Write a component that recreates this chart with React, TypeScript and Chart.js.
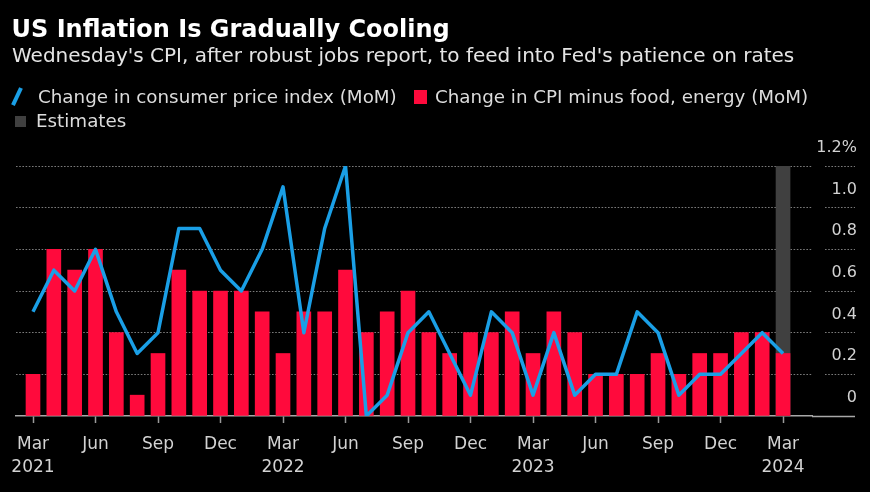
import React, { useEffect, useRef } from 'react';
import { Chart, registerables } from 'chart.js';

Chart.register(...registerables);

const FONT = '"DejaVu Sans", Verdana, sans-serif';

const months = [
  'Mar 2021', 'Apr 2021', 'May 2021', 'Jun 2021', 'Jul 2021', 'Aug 2021', 'Sep 2021', 'Oct 2021', 'Nov 2021', 'Dec 2021',
  'Jan 2022', 'Feb 2022', 'Mar 2022', 'Apr 2022', 'May 2022', 'Jun 2022', 'Jul 2022', 'Aug 2022', 'Sep 2022', 'Oct 2022', 'Nov 2022', 'Dec 2022',
  'Jan 2023', 'Feb 2023', 'Mar 2023', 'Apr 2023', 'May 2023', 'Jun 2023', 'Jul 2023', 'Aug 2023', 'Sep 2023', 'Oct 2023', 'Nov 2023', 'Dec 2023',
  'Jan 2024', 'Feb 2024', 'Mar 2024',
];

// Change in consumer price index (MoM), %
const cpiMoM = [
  0.5, 0.7, 0.6, 0.8, 0.5, 0.3, 0.4, 0.9, 0.9, 0.7,
  0.6, 0.8, 1.1, 0.4, 0.9, 1.2, 0.0, 0.1, 0.4, 0.5, 0.3, 0.1,
  0.5, 0.4, 0.1, 0.4, 0.1, 0.2, 0.2, 0.5, 0.4, 0.1, 0.2, 0.2,
  0.3, 0.4, 0.3,
];

// Change in CPI minus food, energy (MoM), %
const coreMoM = [
  0.2, 0.8, 0.7, 0.8, 0.4, 0.1, 0.3, 0.7, 0.6, 0.6,
  0.6, 0.5, 0.3, 0.5, 0.5, 0.7, 0.4, 0.5, 0.6, 0.4, 0.3, 0.4,
  0.4, 0.5, 0.3, 0.5, 0.4, 0.2, 0.2, 0.2, 0.3, 0.2, 0.3, 0.3,
  0.4, 0.4, 0.3,
];

const estimatedMonths = ['Mar 2024'];
const estimateBand = 1.2;

const tickMonths = [
  'Mar 2021', 'Jun 2021', 'Sep 2021', 'Dec 2021',
  'Mar 2022', 'Jun 2022', 'Sep 2022', 'Dec 2022',
  'Mar 2023', 'Jun 2023', 'Sep 2023', 'Dec 2023',
  'Mar 2024',
];
const tickLabels = [
  ['Mar', '2021'], ['Jun'], ['Sep'], ['Dec'],
  ['Mar', '2022'], ['Jun'], ['Sep'], ['Dec'],
  ['Mar', '2023'], ['Jun'], ['Sep'], ['Dec'],
  ['Mar', '2024'],
];

const yTicks = [0, 0.2, 0.4, 0.6, 0.8, 1.0, 1.2];
const yTickLabels = ['0', '0.2', '0.4', '0.6', '0.8', '1.0', '1.2%'];

const BLUE = '#1a9fe6';
const RED = '#ff0a3c';
const EST = '#404040';
const GRID = '#7a7a7a';
const AXIS = '#a8a8a8';
const TICK_TEXT = '#d2d2d2';

const dotted = [1.6, 1.6];
const tickDots: number[] = [0, 13];
for (let k = 0; k < 20; k++) tickDots.push(1.6, 1.6);

export default function App() {
  const ref = useRef<HTMLCanvasElement>(null);

  useEffect(() => {
    const canvas = ref.current;
    if (!canvas) return;

    Chart.defaults.font.family = FONT;

    const chart = new Chart(canvas, {
      type: 'bar',
      data: {
        datasets: [
          {
            type: 'line',
            label: 'Change in consumer price index (MoM)',
            data: cpiMoM.map((v, i) => ({ x: i, y: v })),
            borderColor: BLUE,
            borderWidth: 3.5,
            pointRadius: 0,
            tension: 0,
            borderJoinStyle: 'round',
            order: 0,
          } as any,
          {
            type: 'bar',
            label: 'Change in CPI minus food, energy (MoM)',
            data: coreMoM.map((v, i) => ({ x: i, y: v })),
            backgroundColor: RED,
            barThickness: 14,
            grouped: false,
            order: 1,
          } as any,
          {
            type: 'bar',
            label: 'Estimates',
            data: estimatedMonths.map((m) => ({ x: months.indexOf(m), y: estimateBand })),
            backgroundColor: EST,
            barThickness: 14,
            grouped: false,
            order: 2,
          } as any,
        ],
      },
      options: {
        animation: false,
        responsive: true,
        maintainAspectRatio: false,
        layout: { padding: { top: 166, left: 16, right: 13, bottom: 0 } },
        plugins: {
          legend: { display: false },
          tooltip: { enabled: false },
        },
        scales: {
          x: {
            type: 'linear',
            min: -0.816,
            max: 37.39,
            offset: false,
            afterBuildTicks: (s: any) => {
              s.ticks = tickMonths.map((m) => ({ value: months.indexOf(m) }));
            },
            afterFit: (s: any) => {
              s.height = 76;
            },
            ticks: {
              autoSkip: false,
              maxRotation: 0,
              minRotation: 0,
              color: TICK_TEXT,
              font: { family: FONT, size: 17, lineHeight: 1.3 },
              padding: 11,
              callback: (_v: any, i: number) => tickLabels[i],
            },
            grid: {
              offset: false,
              drawOnChartArea: false,
              drawTicks: true,
              tickLength: 7,
              tickColor: '#9a9a9a',
              tickWidth: 1.5,
            },
            border: { display: true, color: AXIS, width: 1.5 },
          },
          y: {
            position: 'right',
            min: 0,
            max: 1.2,
            afterBuildTicks: (s: any) => {
              s.ticks = yTicks.map((v) => ({ value: v }));
            },
            afterFit: (s: any) => {
              s.width = 45;
            },
            ticks: {
              color: TICK_TEXT,
              font: { family: FONT, size: 16 },
              crossAlign: 'far',
              padding: 0,
              labelOffset: -18,
              callback: (_v: any, i: number) => yTickLabels[i],
            },
            grid: {
              color: (c: any) => (c.tick && c.tick.value === 0 ? 'rgba(0,0,0,0)' : GRID),
              lineWidth: 1,
              drawTicks: true,
              tickLength: 43,
              tickColor: (c: any) => (c.tick && c.tick.value === 0 ? AXIS : GRID),
              tickWidth: (c: any) => (c.tick && c.tick.value === 0 ? 1.5 : 1),
              tickBorderDash: (c: any) => (c.tick && c.tick.value === 0 ? [] : tickDots),
            },
            border: { display: false, dash: dotted },
          },
        },
      } as any,
    });
    return () => chart.destroy();
  }, []);

  return (
    <div
      style={{
        position: 'fixed',
        left: 0,
        top: 0,
        width: 870,
        height: 492,
        background: '#000',
        overflow: 'hidden',
        fontFamily: FONT,
      }}
    >
      <div style={{ position: 'absolute', left: 0, top: 0, width: 870, height: 492 }}>
        <canvas ref={ref} />
      </div>
      <div
        style={{
          position: 'absolute', left: 11.5, top: 15.4, fontSize: 24, fontWeight: 'bold',
          lineHeight: '28px', color: '#ffffff', whiteSpace: 'nowrap',
        }}
      >
        US Inflation Is Gradually Cooling
      </div>
      <div
        style={{
          position: 'absolute', left: 12, top: 43.9, fontSize: 20, lineHeight: '23px',
          color: '#e4e4e4', whiteSpace: 'nowrap',
        }}
      >
        Wednesday's CPI, after robust jobs report, to feed into Fed's patience on rates
      </div>
      <div
        style={{
          position: 'absolute', left: 15.25, top: 87.2, width: 3.5, height: 19,
          background: BLUE, transform: 'rotate(25deg)',
        }}
      />
      <div
        style={{
          position: 'absolute', left: 38, top: 86.4, fontSize: 18.3, lineHeight: '21px',
          color: '#dcdcdc', whiteSpace: 'nowrap',
        }}
      >
        Change in consumer price index (MoM)
      </div>
      <div style={{ position: 'absolute', left: 414, top: 90, width: 13, height: 14, background: RED }} />
      <div
        style={{
          position: 'absolute', left: 435, top: 86.4, fontSize: 18.3, lineHeight: '21px',
          color: '#dcdcdc', whiteSpace: 'nowrap',
        }}
      >
        Change in CPI minus food, energy (MoM)
      </div>
      <div style={{ position: 'absolute', left: 15, top: 116, width: 11, height: 11, background: EST }} />
      <div
        style={{
          position: 'absolute', left: 36, top: 110.4, fontSize: 18.3, lineHeight: '21px',
          color: '#dcdcdc', whiteSpace: 'nowrap',
        }}
      >
        Estimates
      </div>
    </div>
  );
}
